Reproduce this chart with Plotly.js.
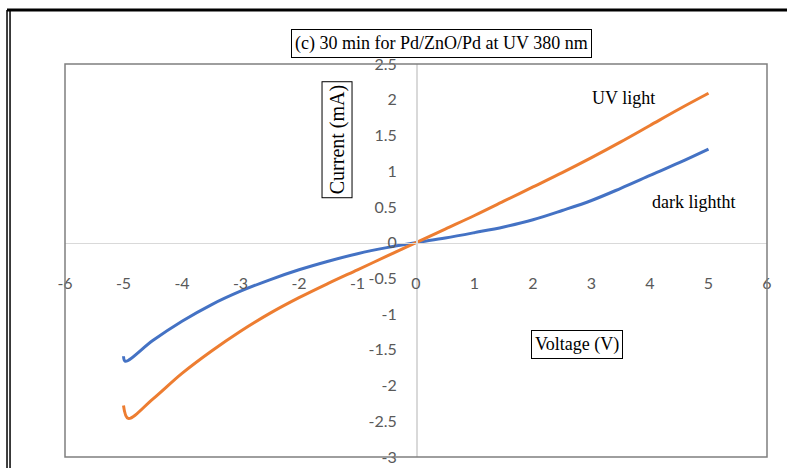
<!DOCTYPE html>
<html>
<head>
<meta charset="utf-8">
<script src="https://cdn.plot.ly/plotly-3.0.1.min.js"></script>
<style>html,body{margin:0;padding:0;background:#fff;}#chart{width:787px;height:468px;}</style>
</head>
<body>
<div id="chart"></div>
<script>
// Dark (blue) curve
const voltDark = [-5.00, -4.97, -4.5, -4.0, -3.5, -3.0, -2.5, -2.0, -1.5, -1.0, -0.5, 0, 0.5, 1.0, 1.5, 2.0, 2.5, 3.0, 3.5, 4.0, 4.5, 5.0];
const currDark = [-1.59, -1.66, -1.37, -1.10, -0.87, -0.68, -0.52, -0.38, -0.26, -0.155, -0.07, 0, 0.065, 0.14, 0.22, 0.32, 0.45, 0.59, 0.76, 0.94, 1.12, 1.31];
// UV light (orange) curve
const voltUV = [-5.00, -4.92, -4.5, -4.0, -3.5, -3.0, -2.5, -2.0, -1.5, -1.0, -0.5, 0, 0.5, 1.0, 1.5, 2.0, 2.5, 3.0, 3.5, 4.0, 4.5, 5.0];
const currUV = [-2.28, -2.46, -2.19, -1.83, -1.52, -1.24, -0.99, -0.77, -0.57, -0.38, -0.19, 0, 0.19, 0.38, 0.58, 0.78, 0.98, 1.19, 1.41, 1.64, 1.87, 2.09];

const xTickVals = [-6, -5, -4, -3, -2, -1, 0, 1, 2, 3, 4, 5, 6];
const xTickText = ["-6", "-5", "-4", "-3", "-2", "-1", "0", "1", "2", "3", "4", "5", "6"];
const yTickVals = [-3, -2.5, -2, -1.5, -1, -0.5, 0, 0.5, 1, 1.5, 2, 2.5];
const yTickText = ["-3", "-2.5", "-2", "-1.5", "-1", "-0.5", "0", "0.5", "1", "1.5", "2", "2.5"];

const titleText = "(c) 30 min for Pd/ZnO/Pd at UV 380 nm";
const xLabel = "Voltage (V)";
const yLabel = "Current (mA)";
const uvLabel = "UV light";
const darkLabel = "dark lightht";

const serif = "Liberation Serif, Times New Roman, serif";
const sans = "Lato, Carlito, Calibri, sans-serif";

const traces = [
  {x: voltDark, y: currDark, mode: 'lines', name: 'dark', line: {color: '#4472C4', width: 3, shape: 'spline', smoothing: 1}},
  {x: voltUV, y: currUV, mode: 'lines', name: 'UV', line: {color: '#ED7D31', width: 3, shape: 'spline', smoothing: 1}}
];

const layout = {
  width: 787, height: 468,
  margin: {l: 65, r: 20, t: 64, b: 11},
  paper_bgcolor: '#fff', plot_bgcolor: '#fff',
  showlegend: false,
  xaxis: {
    range: [-6, 6], tickmode: 'array', tickvals: xTickVals, ticktext: xTickText,
    showgrid: false, zeroline: false,
    showline: true, linecolor: '#d9d9d9', linewidth: 1.5,
    anchor: 'free', position: 3/5.5, ticks: '',
    ticklabelstandoff: 26,
    tickfont: {family: sans, size: 16, color: '#595959'}
  },
  yaxis: {
    range: [-3, 2.5], tickmode: 'array', tickvals: yTickVals, ticktext: yTickText,
    showgrid: false, zeroline: false,
    showline: true, linecolor: '#d9d9d9', linewidth: 1.5,
    anchor: 'free', position: 0.5, ticks: '',
    ticklabelstandoff: 16,
    tickfont: {family: sans, size: 16, color: '#595959'}
  },
  shapes: [
    {type: 'rect', xref: 'paper', yref: 'paper', x0: 0, x1: 1, y0: 0, y1: 1, line: {color: '#7f7f7f', width: 1.5}},
    {type: 'line', xref: 'paper', yref: 'paper', x0: -0.0826, x1: 1.05, y0: 1.1374, y1: 1.1374, line: {color: '#000', width: 3}},
    {type: 'line', xref: 'paper', yref: 'paper', x0: -0.0826, x1: -0.0826, y0: 1.1374, y1: -0.05, line: {color: '#000', width: 1.5}},
    {type: 'line', xref: 'paper', yref: 'paper', x0: -0.0783, x1: -0.0783, y0: 1.1374, y1: -0.05, line: {color: '#000', width: 1.5}}
  ],
  annotations: [
    {text: titleText, xref: 'paper', yref: 'paper', x: 0.537, y: 1.051, xanchor: 'center', yanchor: 'middle', showarrow: false,
     font: {family: serif, size: 18, color: '#000'}, bordercolor: '#000', borderwidth: 1, borderpad: 3, bgcolor: 'rgba(255,255,255,0)'},
    {text: yLabel, xref: 'paper', yref: 'paper', x: 0.388, y: 0.807, xanchor: 'center', yanchor: 'middle', showarrow: false, textangle: -90,
     font: {family: serif, size: 20, color: '#000'}, bordercolor: '#000', borderwidth: 1, borderpad: 3, bgcolor: '#fff'},
    {text: xLabel, xref: 'paper', yref: 'paper', x: 0.730, y: 0.2875, xanchor: 'center', yanchor: 'middle', showarrow: false,
     font: {family: serif, size: 18, color: '#000'}, bordercolor: '#000', borderwidth: 1, borderpad: 3, bgcolor: '#fff'},
    {text: uvLabel, xref: 'paper', yref: 'paper', x: 0.796, y: 0.913, xanchor: 'center', yanchor: 'middle', showarrow: false,
     font: {family: serif, size: 18, color: '#000'}},
    {text: darkLabel, xref: 'paper', yref: 'paper', x: 0.896, y: 0.649, xanchor: 'center', yanchor: 'middle', showarrow: false,
     font: {family: serif, size: 18, color: '#000'}}
  ]
};

Plotly.newPlot('chart', traces, layout, {displayModeBar: false, staticPlot: true});
</script>
</body>
</html>
